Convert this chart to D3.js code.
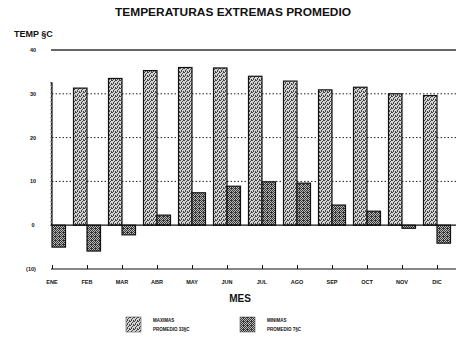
<!DOCTYPE html>
<html>
<head>
<meta charset="utf-8">
<script src="https://cdn.jsdelivr.net/npm/d3@7"></script>
<style>
  html, body { margin: 0; padding: 0; background: #fff; }
  svg { display: block; }
  text { font-family: "Liberation Sans", Arial, sans-serif; fill: #111; }
</style>
</head>
<body>
<svg id="chart" width="456" height="339"></svg>
<script>
// Monthly averages of the extreme temperatures (°C)
const months = ["ENE", "FEB", "MAR", "ABR", "MAY", "JUN", "JUL", "AGO", "SEP", "OCT", "NOV", "DIC"];
const maximas = [32.5, 31.3, 33.5, 35.3, 36.0, 35.9, 34.0, 32.9, 30.9, 31.5, 30.0, 29.6];
const minimas = [-5.0, -5.9, -2.2, 2.3, 7.4, 8.9, 9.9, 9.6, 4.6, 3.2, -0.7, -4.1];
const yTicks = [40, 30, 20, 10, 0, -10];
const yTickLabels = ["40", "30", "20", "10", "0", "(10)"];
const legendItems = [
  { name: "MAXIMAS", note: "PROMEDIO 33§C", fill: "url(#dotsLight)" },
  { name: "MINIMAS", note: "PROMEDIO 7§C", fill: "url(#dotsDark)" }
];

const svg = d3.select("#chart");
const W = 456;

const x = d3.scalePoint().domain(months).range([52, 437]);
const y = d3.scaleLinear().domain([-10, 40]).range([269, 50]);
const barW = 13.5;

// stipple fills for the two series
const defs = svg.append("defs");
function stipple(id, cells, size, bg, ink) {
  const p = defs.append("pattern").attr("id", id)
    .attr("patternUnits", "userSpaceOnUse").attr("width", size).attr("height", size);
  p.append("rect").attr("width", size).attr("height", size).attr("fill", bg);
  cells.forEach(([cx, cy]) => p.append("rect").attr("x", cx).attr("y", cy)
    .attr("width", 1).attr("height", 1).attr("fill", ink));
}
stipple("dotsLight", [[0,0],[2,1],[1,2],[3,3],[3,0],[1,3]], 4, "#d4d4d4", "#444");
stipple("dotsDark", [[0,0],[2,0],[1,1],[3,1],[0,2],[2,2],[1,3],[3,3],[3,0]], 4, "#bbb", "#333");

defs.append("clipPath").attr("id", "plotClip")
  .append("rect").attr("x", 50.5).attr("y", 40).attr("width", W - 50.5).attr("height", 240);

// title and axis titles
svg.append("text").attr("x", 233).attr("y", 16).attr("text-anchor", "middle")
  .attr("font-size", 11.5).attr("font-weight", "bold").attr("textLength", 236)
  .attr("lengthAdjust", "spacingAndGlyphs").text("TEMPERATURAS EXTREMAS PROMEDIO");
svg.append("text").attr("x", 14).attr("y", 37).attr("font-size", 9)
  .attr("font-weight", "bold").text("TEMP §C");
svg.append("text").attr("x", 240).attr("y", 302).attr("text-anchor", "middle")
  .attr("font-size", 10).attr("font-weight", "bold").text("MES");

// y tick labels
svg.append("g").selectAll("text").data(yTicks).join("text")
  .attr("x", (d, i) => i === yTicks.length - 1 ? 31 : 33)
  .attr("y", d => y(d) + 2)
  .attr("text-anchor", "middle").attr("font-size", 5.5).attr("font-weight", "bold")
  .text((d, i) => yTickLabels[i]);

// horizontal reference lines
svg.append("line").attr("x1", 51).attr("x2", W).attr("y1", y(40)).attr("y2", y(40))
  .attr("stroke", "#333").attr("stroke-width", 1.4);
svg.append("g").selectAll("line").data([30, 20, 10]).join("line")
  .attr("x1", 52).attr("x2", W).attr("y1", d => y(d)).attr("y2", d => y(d))
  .attr("stroke", "#222").attr("stroke-width", 1).attr("stroke-dasharray", "1.5,2");

// bars
const plot = svg.append("g").attr("clip-path", "url(#plotClip)");
plot.selectAll("rect.max").data(months).join("rect").attr("class", "max")
  .attr("x", d => x(d) - barW)
  .attr("y", (d, i) => y(maximas[i]))
  .attr("width", barW)
  .attr("height", (d, i) => y(0) - y(maximas[i]))
  .attr("fill", "url(#dotsLight)").attr("stroke", "#111").attr("stroke-width", 1.2);
plot.selectAll("rect.min").data(months).join("rect").attr("class", "min")
  .attr("x", d => x(d))
  .attr("y", (d, i) => y(Math.max(0, minimas[i])))
  .attr("width", barW)
  .attr("height", (d, i) => Math.abs(y(minimas[i]) - y(0)))
  .attr("fill", "url(#dotsDark)").attr("stroke", "#111").attr("stroke-width", 1.2);

// zero line
svg.append("line").attr("x1", 52).attr("x2", W).attr("y1", y(0)).attr("y2", y(0))
  .attr("stroke", "#111").attr("stroke-width", 1.2);

// bottom month axis
const xAxis = d3.axisTop(x).tickSize(4).tickFormat("");
const gx = svg.append("g").attr("transform", `translate(0,${y(-10)})`).call(xAxis);
gx.select(".domain").attr("d", `M51,0H${W}`).attr("stroke", "#111").attr("stroke-width", 1.2);
gx.selectAll(".tick line").attr("stroke", "#111");
svg.append("g").selectAll("text").data(months).join("text")
  .attr("x", d => x(d)).attr("y", 284).attr("text-anchor", "middle")
  .attr("font-size", 5.5).attr("font-weight", "bold").text(d => d);

// legend
const lg = svg.append("g").selectAll("g").data(legendItems).join("g")
  .attr("transform", (d, i) => `translate(${126 + i * 114},317)`);
lg.append("rect").attr("width", 15).attr("height", 15)
  .attr("fill", d => d.fill).attr("stroke", "#555").attr("stroke-width", 0.6);
lg.append("text").attr("x", 27).attr("y", 5).attr("font-size", 4.5)
  .attr("font-weight", "bold").text(d => d.name);
lg.append("text").attr("x", 27).attr("y", 14).attr("font-size", 4.5)
  .attr("font-weight", "bold").text(d => d.note);
</script>
</body>
</html>
